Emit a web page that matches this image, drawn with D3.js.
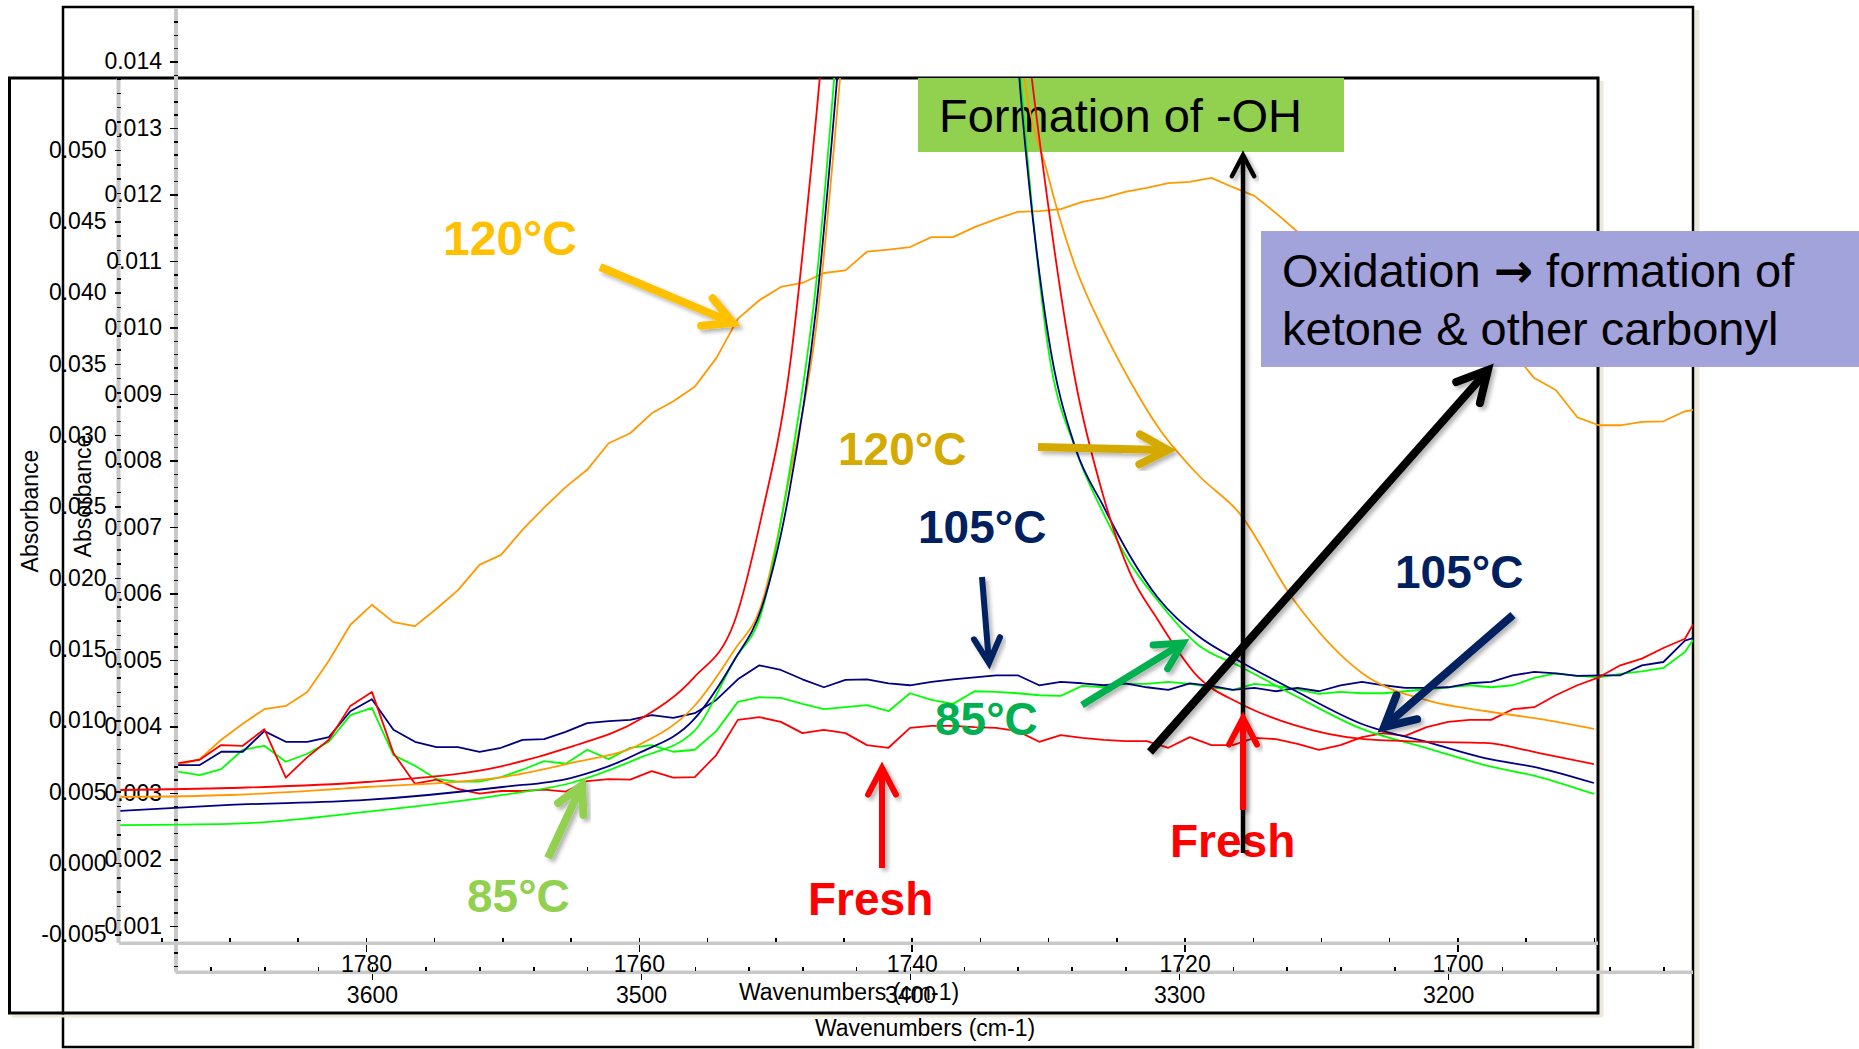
<!DOCTYPE html>
<html lang="en">

<head>
    <meta charset="UTF-8">
    <title>FTIR absorbance - O-H and C=O regions</title>
    <style>
    body {
        margin: 0;
        background: #fff;
    }

    svg text {
        font-family: "Liberation Sans", Arial, sans-serif;
    }

    .axis path {
        display: none;
    }

    .axis line {
        stroke: #000;
        stroke-width: 1.5;
        shape-rendering: crispEdges;
    }

    .axis text {
        font-size: 23px;
        fill: #000;
    }
    </style>
</head>

<body>
    <div id="chart"></div>
    <script src="https://d3js.org/d3.v7.min.js"></script>
    <script>
    // ---- O-H region (outer spectrum), wavenumbers in cm-1 ----
    var ohWavenumbers = [3672, 3664, 3656, 3648, 3640, 3632, 3624, 3616, 3608, 3600, 3592, 3584, 3576, 3568, 3560, 3552, 3544, 3536,
        3528, 3520, 3512, 3504, 3496, 3488, 3480, 3472, 3464, 3456, 3448, 3440, 3432, 3424, 3416, 3408, 3400, 3392,
        3384, 3376, 3368, 3360, 3352, 3344, 3336, 3328, 3320, 3312, 3304, 3296, 3288, 3280, 3272, 3264, 3256, 3248,
        3240, 3232, 3224, 3216, 3208, 3200, 3192, 3184, 3176, 3168, 3160, 3152, 3144, 3136, 3128, 3120, 3112, 3109];
    var ohFresh = [0.00345, 0.00350, 0.00372, 0.00371, 0.00396, 0.00323, 0.00354, 0.00380, 0.00431, 0.00452, 0.00360, 0.00314,
        0.00320, 0.00306, 0.00299, 0.00303, 0.00303, 0.00305, 0.00302, 0.00318, 0.00321, 0.00320, 0.00333, 0.00323,
        0.00324, 0.00357, 0.00410, 0.00414, 0.00407, 0.00390, 0.00395, 0.00390, 0.00372, 0.00368, 0.00398, 0.00401,
        0.00401, 0.00399, 0.00398, 0.00393, 0.00377, 0.00387, 0.00383, 0.00380, 0.00378, 0.00378, 0.00368, 0.00384,
        0.00372, 0.00372, 0.00383, 0.00381, 0.00374, 0.00365, 0.00372, 0.00384, 0.00390, 0.00386, 0.00399, 0.00407,
        0.00410, 0.00410, 0.00426, 0.00429, 0.00447, 0.00462, 0.00474, 0.00492, 0.00502, 0.00518, 0.00532, 0.00553];
    var oh85 = [0.00332, 0.00327, 0.00336, 0.00365, 0.00371, 0.00347, 0.00359, 0.00377, 0.00417, 0.00428, 0.00357, 0.00341,
        0.00321, 0.00317, 0.00317, 0.00324, 0.00335, 0.00348, 0.00344, 0.00365, 0.00351, 0.00368, 0.00372, 0.00362,
        0.00365, 0.00393, 0.00437, 0.00444, 0.00443, 0.00434, 0.00426, 0.00429, 0.00432, 0.00423, 0.00450, 0.00440,
        0.00434, 0.00453, 0.00452, 0.00450, 0.00447, 0.00446, 0.00461, 0.00459, 0.00464, 0.00464, 0.00467, 0.00464,
        0.00459, 0.00455, 0.00464, 0.00461, 0.00456, 0.00449, 0.00452, 0.00450, 0.00450, 0.00453, 0.00456, 0.00459,
        0.00462, 0.00459, 0.00462, 0.00473, 0.00480, 0.00476, 0.00474, 0.00479, 0.00483, 0.00488, 0.00512, 0.00530];
    var oh105 = [0.00342, 0.00342, 0.00362, 0.00362, 0.00393, 0.00377, 0.00377, 0.00384, 0.00423, 0.00441, 0.00395, 0.00377,
        0.00369, 0.00369, 0.00362, 0.00368, 0.00380, 0.00381, 0.00392, 0.00405, 0.00408, 0.00410, 0.00417, 0.00413,
        0.00420, 0.00440, 0.00471, 0.00492, 0.00485, 0.00471, 0.00459, 0.00470, 0.00471, 0.00465, 0.00462, 0.00467,
        0.00471, 0.00474, 0.00477, 0.00477, 0.00462, 0.00467, 0.00465, 0.00462, 0.00465, 0.00459, 0.00455, 0.00465,
        0.00461, 0.00455, 0.00458, 0.00453, 0.00458, 0.00453, 0.00462, 0.00467, 0.00462, 0.00458, 0.00458, 0.00459,
        0.00465, 0.00467, 0.00477, 0.00482, 0.00480, 0.00476, 0.00477, 0.00477, 0.00492, 0.00497, 0.00529, 0.00533];
    var oh120 = [0.00342, 0.00351, 0.00380, 0.00404, 0.00426, 0.00431, 0.00452, 0.00499, 0.00553, 0.00583, 0.00557, 0.00551,
        0.00577, 0.00605, 0.00643, 0.00658, 0.00696, 0.00729, 0.00760, 0.00786, 0.00826, 0.00841, 0.00871, 0.00889,
        0.00911, 0.00954, 0.01013, 0.01041, 0.01061, 0.01067, 0.01082, 0.01086, 0.01114, 0.01117, 0.01121, 0.01136,
        0.01136, 0.01151, 0.01163, 0.01174, 0.01175, 0.01178, 0.01189, 0.01195, 0.01204, 0.01210, 0.01217, 0.01219,
        0.01225, 0.01211, 0.01198, 0.01172, 0.01144, 0.01117, 0.01094, 0.01071, 0.01053, 0.01041, 0.01026, 0.01011,
        0.00996, 0.00981, 0.00963, 0.00924, 0.00906, 0.00865, 0.00853, 0.00853, 0.00858, 0.00859, 0.00874, 0.00876];

    // ---- C=O region (inner spectrum), wavenumbers in cm-1; peak runs off the top ----
    var coWavenumbers = [1798, 1790, 1780, 1770, 1765, 1760, 1756, 1753, 1751, 1749, 1747, 1745, 1740, 1735,
        1732, 1730, 1728, 1726, 1724, 1722, 1719, 1716, 1712, 1707, 1702, 1698, 1694, 1690];
    var coFresh = [0.00512, 0.00526, 0.00568, 0.00680, 0.00814, 0.01003, 0.01297, 0.01690, 0.02434, 0.03436, 0.05232, 0.0733,
        0.12, 0.10, 0.062, 0.04615, 0.03380, 0.02588, 0.02034, 0.01711, 0.01304, 0.01122, 0.00968, 0.00870, 0.00849,
        0.00842, 0.00771, 0.00694];
    var co85 = [0.00266, 0.00274, 0.00358, 0.00477, 0.00561, 0.00736, 0.00919, 0.01424, 0.01760, 0.02721, 0.04068, 0.063,
        0.12, 0.10, 0.05491, 0.03612, 0.02903, 0.02462, 0.02104, 0.01844, 0.01529, 0.01382, 0.01178, 0.00940, 0.00799,
        0.00687, 0.00603, 0.00484];
    var co105 = [0.00365, 0.00407, 0.00442, 0.00533, 0.00596, 0.00771, 0.01003, 0.01424, 0.01788, 0.02588, 0.03892, 0.0603,
        0.12, 0.10, 0.05372, 0.03703, 0.02910, 0.02511, 0.02153, 0.01865, 0.01592, 0.01417, 0.01213, 0.00975, 0.00842,
        0.00736, 0.00666, 0.00561];
    var co120 = [0.00463, 0.00477, 0.00533, 0.00603, 0.00701, 0.00828, 0.01094, 0.01494, 0.01816, 0.02686, 0.03759, 0.0578,
        0.12, 0.10, 0.0569, 0.04818, 0.04180, 0.03745, 0.03380, 0.03065, 0.02721, 0.02455, 0.01844, 0.01332, 0.01136,
        0.01066, 0.01010, 0.00940];

    // tick labels
    var ohYTicks = [0.001, 0.002, 0.003, 0.004, 0.005, 0.006, 0.007, 0.008, 0.009, 0.010, 0.011, 0.012, 0.013, 0.014];
    var ohXTicks = [3600, 3500, 3400, 3300, 3200];
    var coYTicks = [-0.005, 0.000, 0.005, 0.010, 0.015, 0.020, 0.025, 0.030, 0.035, 0.040, 0.045, 0.050];
    var coXTicks = [1780, 1760, 1740, 1720, 1700];

    var width = 1859;
    var height = 1049;
    var colors = { fresh: '#ff0000', c85: '#00ff00', c105: '#000080', c120: '#ff9900' };

    // plot areas of the two overlaid spectra
    var outer = { left: 175.5, right: 1693, top: 9, bottom: 972 };
    var inner = { left: 119, right: 1598, top: 78, bottom: 943 };

    var svg = d3.select('#chart').append('svg').attr('width', width).attr('height', height);

    var defs = svg.append('defs');
    defs.append('clipPath').attr('id', 'clipOuter').append('rect')
        .attr('x', outer.left).attr('y', outer.top)
        .attr('width', outer.right - outer.left).attr('height', outer.bottom - outer.top);
    defs.append('clipPath').attr('id', 'clipInner').append('rect')
        .attr('x', inner.left).attr('y', inner.top)
        .attr('width', inner.right - inner.left).attr('height', inner.bottom - inner.top);
    defs.append('filter').attr('id', 'shadow').attr('x', '-20%').attr('y', '-20%').attr('width', '140%').attr('height', '140%')
        .append('feDropShadow').attr('dx', 3).attr('dy', 3).attr('stdDeviation', 2)
        .attr('flood-color', '#000').attr('flood-opacity', 0.3);

    var xOH = d3.scaleLinear().domain([3673, 3109]).range([outer.left, outer.right]);
    var yOH = d3.scaleLinear().domain([0.000308, 0.01479]).range([outer.bottom, outer.top]);
    var xCO = d3.scaleLinear().domain([1798.1, 1689.7]).range([inner.left, inner.right]);
    var yCO = d3.scaleLinear().domain([-0.00561, 0.05505]).range([inner.bottom, inner.top]);

    // 外框 / frames with a thin beige shadow
    svg.append('rect').attr('x', 1694.5).attr('y', 10).attr('width', 5).attr('height', 1039).attr('fill', '#ece9d8');
    svg.append('rect').attr('x', 63).attr('y', 7).attr('width', 1630).attr('height', 1040)
        .attr('fill', 'none').attr('stroke', '#000').attr('stroke-width', 2.5);
    svg.append('rect').attr('x', 1599.5).attr('y', 81).attr('width', 4).attr('height', 935).attr('fill', '#ece9d8');
    svg.append('rect').attr('x', 12).attr('y', 1014.5).attr('width', 1591).attr('height', 3).attr('fill', '#ece9d8');
    svg.append('rect').attr('x', 9.5).attr('y', 78).attr('width', 1588.5).attr('height', 935)
        .attr('fill', 'none').attr('stroke', '#000').attr('stroke-width', 3);

    // grey axis bands
    var bandColor = '#c8c8c8';
    svg.append('rect').attr('x', 174).attr('y', outer.top).attr('width', 4).attr('height', outer.bottom - outer.top).attr('fill', bandColor);
    svg.append('rect').attr('x', outer.left).attr('y', 970.5).attr('width', outer.right - outer.left).attr('height', 3.5).attr('fill', bandColor);
    svg.append('rect').attr('x', 116.5).attr('y', inner.top).attr('width', 4).attr('height', inner.bottom - inner.top).attr('fill', bandColor);
    svg.append('rect').attr('x', inner.left).attr('y', 941.5).attr('width', inner.right - inner.left).attr('height', 3.5).attr('fill', bandColor);

    function fmt3(d) { return d.toFixed(3); }

    // outer (O-H) axes
    svg.append('g').attr('class', 'axis').attr('transform', 'translate(178,0)')
        .call(d3.axisLeft(yOH).tickValues(d3.range(4, 148, 2).map(function(v) { return v / 10000; })).tickSize(4).tickFormat(''));
    svg.append('g').attr('class', 'axis').attr('transform', 'translate(178,0)')
        .call(d3.axisLeft(yOH).tickValues(ohYTicks).tickSize(8).tickPadding(8).tickFormat(fmt3));
    svg.append('g').attr('class', 'axis').attr('transform', 'translate(0,970.5)')
        .call(d3.axisTop(xOH).tickValues(d3.range(3660, 3110, -20)).tickSize(4).tickFormat(''));
    svg.append('g').attr('class', 'axis').attr('transform', 'translate(0,974)')
        .call(d3.axisBottom(xOH).tickValues(ohXTicks).tickSize(6).tickPadding(7).tickFormat(d3.format('d')));

    // inner (C=O) axes
    svg.append('g').attr('class', 'axis').attr('transform', 'translate(120.5,0)')
        .call(d3.axisLeft(yCO).tickValues(d3.range(-5, 56, 1).map(function(v) { return v / 1000; })).tickSize(4).tickFormat(''));
    svg.append('g').attr('class', 'axis').attr('transform', 'translate(120.5,0)')
        .call(d3.axisLeft(yCO).tickValues(coYTicks).tickSize(6).tickPadding(8).tickFormat(fmt3));
    svg.append('g').attr('class', 'axis').attr('transform', 'translate(0,941.5)')
        .call(d3.axisTop(xCO).tickValues(d3.range(1795, 1689, -5)).tickSize(4).tickFormat(''));
    svg.append('g').attr('class', 'axis').attr('transform', 'translate(0,945)')
        .call(d3.axisBottom(xCO).tickValues(coXTicks).tickSize(7).tickPadding(4).tickFormat(d3.format('d')));

    // axis titles
    function title(x, y, rot, txt) {
        svg.append('text')
            .attr('transform', 'translate(' + x + ',' + y + ')' + (rot ? ' rotate(-90)' : ''))
            .attr('text-anchor', 'middle')
            .attr('font-size', 23)
            .text(txt);
    }
    title(849, 1000, false, 'Wavenumbers (cm-1)');
    title(925, 1036, false, 'Wavenumbers (cm-1)');
    title(38, 511, true, 'Absorbance');
    title(91, 496, true, 'Absorbance');

    // O-H spectra
    var lineOH = d3.line()
        .x(function(d) { return xOH(d[0]); })
        .y(function(d) { return yOH(d[1]); });
    var ohSeries = [
        { values: oh120, color: colors.c120 },
        { values: oh85, color: colors.c85 },
        { values: oh105, color: colors.c105 },
        { values: ohFresh, color: colors.fresh }
    ];
    svg.append('g').attr('clip-path', 'url(#clipOuter)')
        .selectAll('path')
        .data(ohSeries)
        .enter()
        .append('path')
        .attr('d', function(s) { return lineOH(d3.zip(ohWavenumbers, s.values)); })
        .attr('fill', 'none')
        .attr('stroke', function(s) { return s.color; })
        .attr('stroke-width', 1.8)
        .attr('stroke-linejoin', 'round');

    // green callout (sits under the C=O curves)
    svg.append('rect').attr('x', 918).attr('y', 78).attr('width', 426).attr('height', 74).attr('fill', '#92d050');
    svg.append('text').attr('x', 939).attr('y', 132).attr('font-size', 47).text('Formation of -OH');

    // C=O spectra
    var lineCO = d3.line()
        .curve(d3.curveMonotoneX)
        .x(function(d) { return xCO(d[0]); })
        .y(function(d) { return yCO(d[1]); });
    var coSeries = [
        { values: co120, color: colors.c120 },
        { values: co85, color: colors.c85 },
        { values: co105, color: colors.c105 },
        { values: coFresh, color: colors.fresh }
    ];
    svg.append('g').attr('clip-path', 'url(#clipInner)')
        .selectAll('path')
        .data(coSeries)
        .enter()
        .append('path')
        .attr('d', function(s) { return lineCO(d3.zip(coWavenumbers, s.values)); })
        .attr('fill', 'none')
        .attr('stroke', function(s) { return s.color; })
        .attr('stroke-width', 1.8);

    // purple callout
    svg.append('rect').attr('x', 1261).attr('y', 231).attr('width', 600).attr('height', 136).attr('fill', '#a3a3dc');
    var ox = svg.append('text').attr('x', 1282).attr('y', 287).attr('font-size', 47);
    ox.append('tspan').text('Oxidation ');
    ox.append('tspan').attr('font-family', '"DejaVu Sans", sans-serif').attr('font-weight', 'bold').text('\u2192');
    ox.append('tspan').text(' formation of');
    svg.append('text').attr('x', 1282).attr('y', 345).attr('font-size', 47).text('ketone & other carbonyl');

    // labels
    var labels = [
        { t: '120°C', x: 443, y: 255, c: '#ffc000', s: 48 },
        { t: '120°C', x: 838, y: 465, c: '#d4aa00', s: 46 },
        { t: '105°C', x: 918, y: 543, c: '#002060', s: 46 },
        { t: '105°C', x: 1395, y: 588, c: '#002060', s: 46 },
        { t: '85°C', x: 935, y: 735, c: '#00b050', s: 46 },
        { t: '85°C', x: 467, y: 912, c: '#92d050', s: 46 },
        { t: 'Fresh', x: 808, y: 915, c: '#ff0000', s: 46 },
        { t: 'Fresh', x: 1170, y: 857, c: '#ff0000', s: 46 }
    ];
    svg.append('g').selectAll('text')
        .data(labels)
        .enter()
        .append('text')
        .attr('x', function(d) { return d.x; })
        .attr('y', function(d) { return d.y; })
        .attr('fill', function(d) { return d.c; })
        .attr('font-size', function(d) { return d.s; })
        .attr('font-weight', 'bold')
        .text(function(d) { return d.t; });

    // 箭头 / open arrows
    function arrow(x1, y1, x2, y2, color, w, head) {
        var a = Math.atan2(y2 - y1, x2 - x1);
        var spread = Math.PI / 6.5;
        var p1 = [x2 - head * Math.cos(a - spread), y2 - head * Math.sin(a - spread)];
        var p2 = [x2 - head * Math.cos(a + spread), y2 - head * Math.sin(a + spread)];
        var g = svg.append('g').attr('filter', 'url(#shadow)');
        g.append('line')
            .attr('x1', x1).attr('y1', y1)
            .attr('x2', x2 - Math.cos(a) * w * 0.6).attr('y2', y2 - Math.sin(a) * w * 0.6)
            .attr('stroke', color).attr('stroke-width', w);
        g.append('path')
            .attr('d', 'M' + p1 + 'L' + x2 + ',' + y2 + 'L' + p2)
            .attr('fill', 'none')
            .attr('stroke', color)
            .attr('stroke-width', w)
            .attr('stroke-linecap', 'round')
            .attr('stroke-linejoin', 'miter');
    }
    arrow(600, 267, 733, 323, '#ffc000', 8, 32);
    arrow(1038, 447, 1168, 450, '#d4aa00', 8, 32);
    arrow(982, 577, 989, 663, '#002060', 6, 28);
    arrow(1513, 615, 1384, 727, '#002060', 8, 34);
    arrow(1082, 705, 1183, 643, '#00b050', 7, 30);
    arrow(548, 858, 582, 785, '#92d050', 8, 30);
    arrow(882, 868, 882, 768, '#ff0000', 6, 30);
    arrow(1243, 853, 1243, 155, '#000', 4.5, 24);
    arrow(1243, 810, 1243, 718, '#ff0000', 6, 30);
    arrow(1150, 752, 1488, 370, '#000', 8, 34);
    </script>
</body>

</html>
